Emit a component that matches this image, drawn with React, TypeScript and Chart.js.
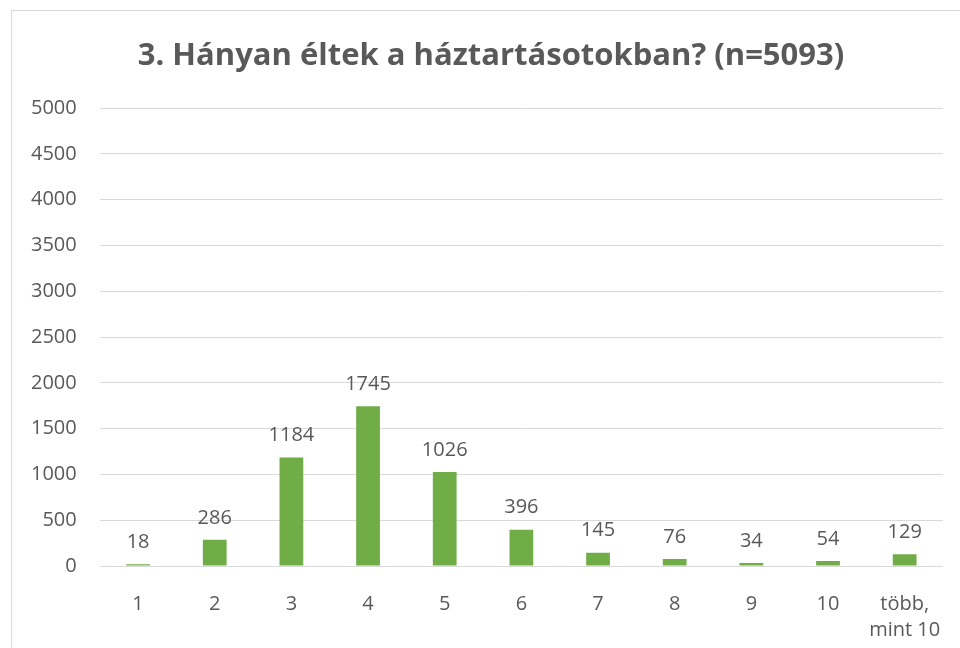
import React, { useEffect, useRef } from "react";
import { Chart, registerables } from "chart.js";

Chart.register(...registerables);

const TITLE = "3. Hányan éltek a háztartásotokban? (n=5093)";
const categories: (string | string[])[] = ["1", "2", "3", "4", "5", "6", "7", "8", "9", "10", ["több,", "mint 10"]];
const values = [18, 286, 1184, 1745, 1026, 396, 145, 76, 34, 54, 129];
const Y_MAX = 5000;
const Y_STEP = 500;

const TEXT = "#595959";
const GRID = "#d9d9d9";
const BAR = "#70AD47";
const FONT = "'Open Sans', 'Noto Sans', sans-serif";

const labelPlugin = {
  id: "valueLabels",
  afterDatasetsDraw(chart: any) {
    const ctx = chart.ctx;
    const meta = chart.getDatasetMeta(0);
    ctx.save();
    ctx.fillStyle = TEXT;
    ctx.font = `20px ${FONT}`;
    ctx.textAlign = "center";
    ctx.textBaseline = "bottom";
    meta.data.forEach((el: any, i: number) => {
      ctx.fillText(String(values[i]), el.x, el.y - 12);
    });
    ctx.restore();
  },
};

const titlePlugin = {
  id: "centeredTitle",
  afterDraw(chart: any) {
    const ctx = chart.ctx;
    ctx.save();
    ctx.fillStyle = TEXT;
    ctx.font = `bold 31px ${FONT}`;
    ctx.textAlign = "center";
    ctx.textBaseline = "middle";
    ctx.fillText(TITLE, 491, 56);
    ctx.restore();
  },
};

export default function App() {
  const ref = useRef<HTMLCanvasElement>(null);
  useEffect(() => {
    if (!ref.current) return;
    const chart = new Chart(ref.current, {
      type: "bar",
      data: {
        labels: categories,
        datasets: [
          {
            data: values,
            backgroundColor: BAR,
            barPercentage: 0.31,
            categoryPercentage: 1,
          },
        ],
      },
      plugins: [labelPlugin, titlePlugin],
      options: {
        animation: false,
        responsive: false,
        layout: { padding: { left: 8, right: 17, top: 108, bottom: 5 } },
        plugins: {
          legend: { display: false },
          tooltip: { enabled: false },
          title: { display: false },
        },
        scales: {
          x: {
            grid: { display: false, drawTicks: false },
            border: { display: false },
            afterFit(scale: any) {
              scale.height = 77;
              scale.paddingRight = 0;
              scale.paddingLeft = 0;
            },
            ticks: {
              color: TEXT,
              font: { family: FONT, size: 20, lineHeight: 1.3 },
              padding: 25,
              maxRotation: 0,
              autoSkip: false,
            },
          },
          y: {
            min: 0,
            max: Y_MAX,
            grid: { color: GRID, lineWidth: 1, drawTicks: false },
            border: { display: false },
            afterFit(scale: any) {
              scale.paddingTop = 0;
              scale.paddingBottom = 0;
            },
            ticks: {
              stepSize: Y_STEP,
              color: TEXT,
              font: { family: FONT, size: 20 },
              padding: 23,
              callback: (v: any) => String(v),
            },
          },
        },
      },
    });
    return () => chart.destroy();
  }, []);

  return (
    <div style={{ position: "fixed", left: 0, top: 0, width: 960, height: 648, overflow: "hidden", background: "#fff" }}>
      <div
        style={{
          position: "absolute",
          left: 11,
          top: 10,
          width: 980,
          height: 700,
          border: "1px solid #d9d9d9",
          boxSizing: "border-box",
        }}
      />
      <canvas ref={ref} width={960} height={648} style={{ position: "absolute", left: 0, top: 0, width: 960, height: 648 }} />
    </div>
  );
}
